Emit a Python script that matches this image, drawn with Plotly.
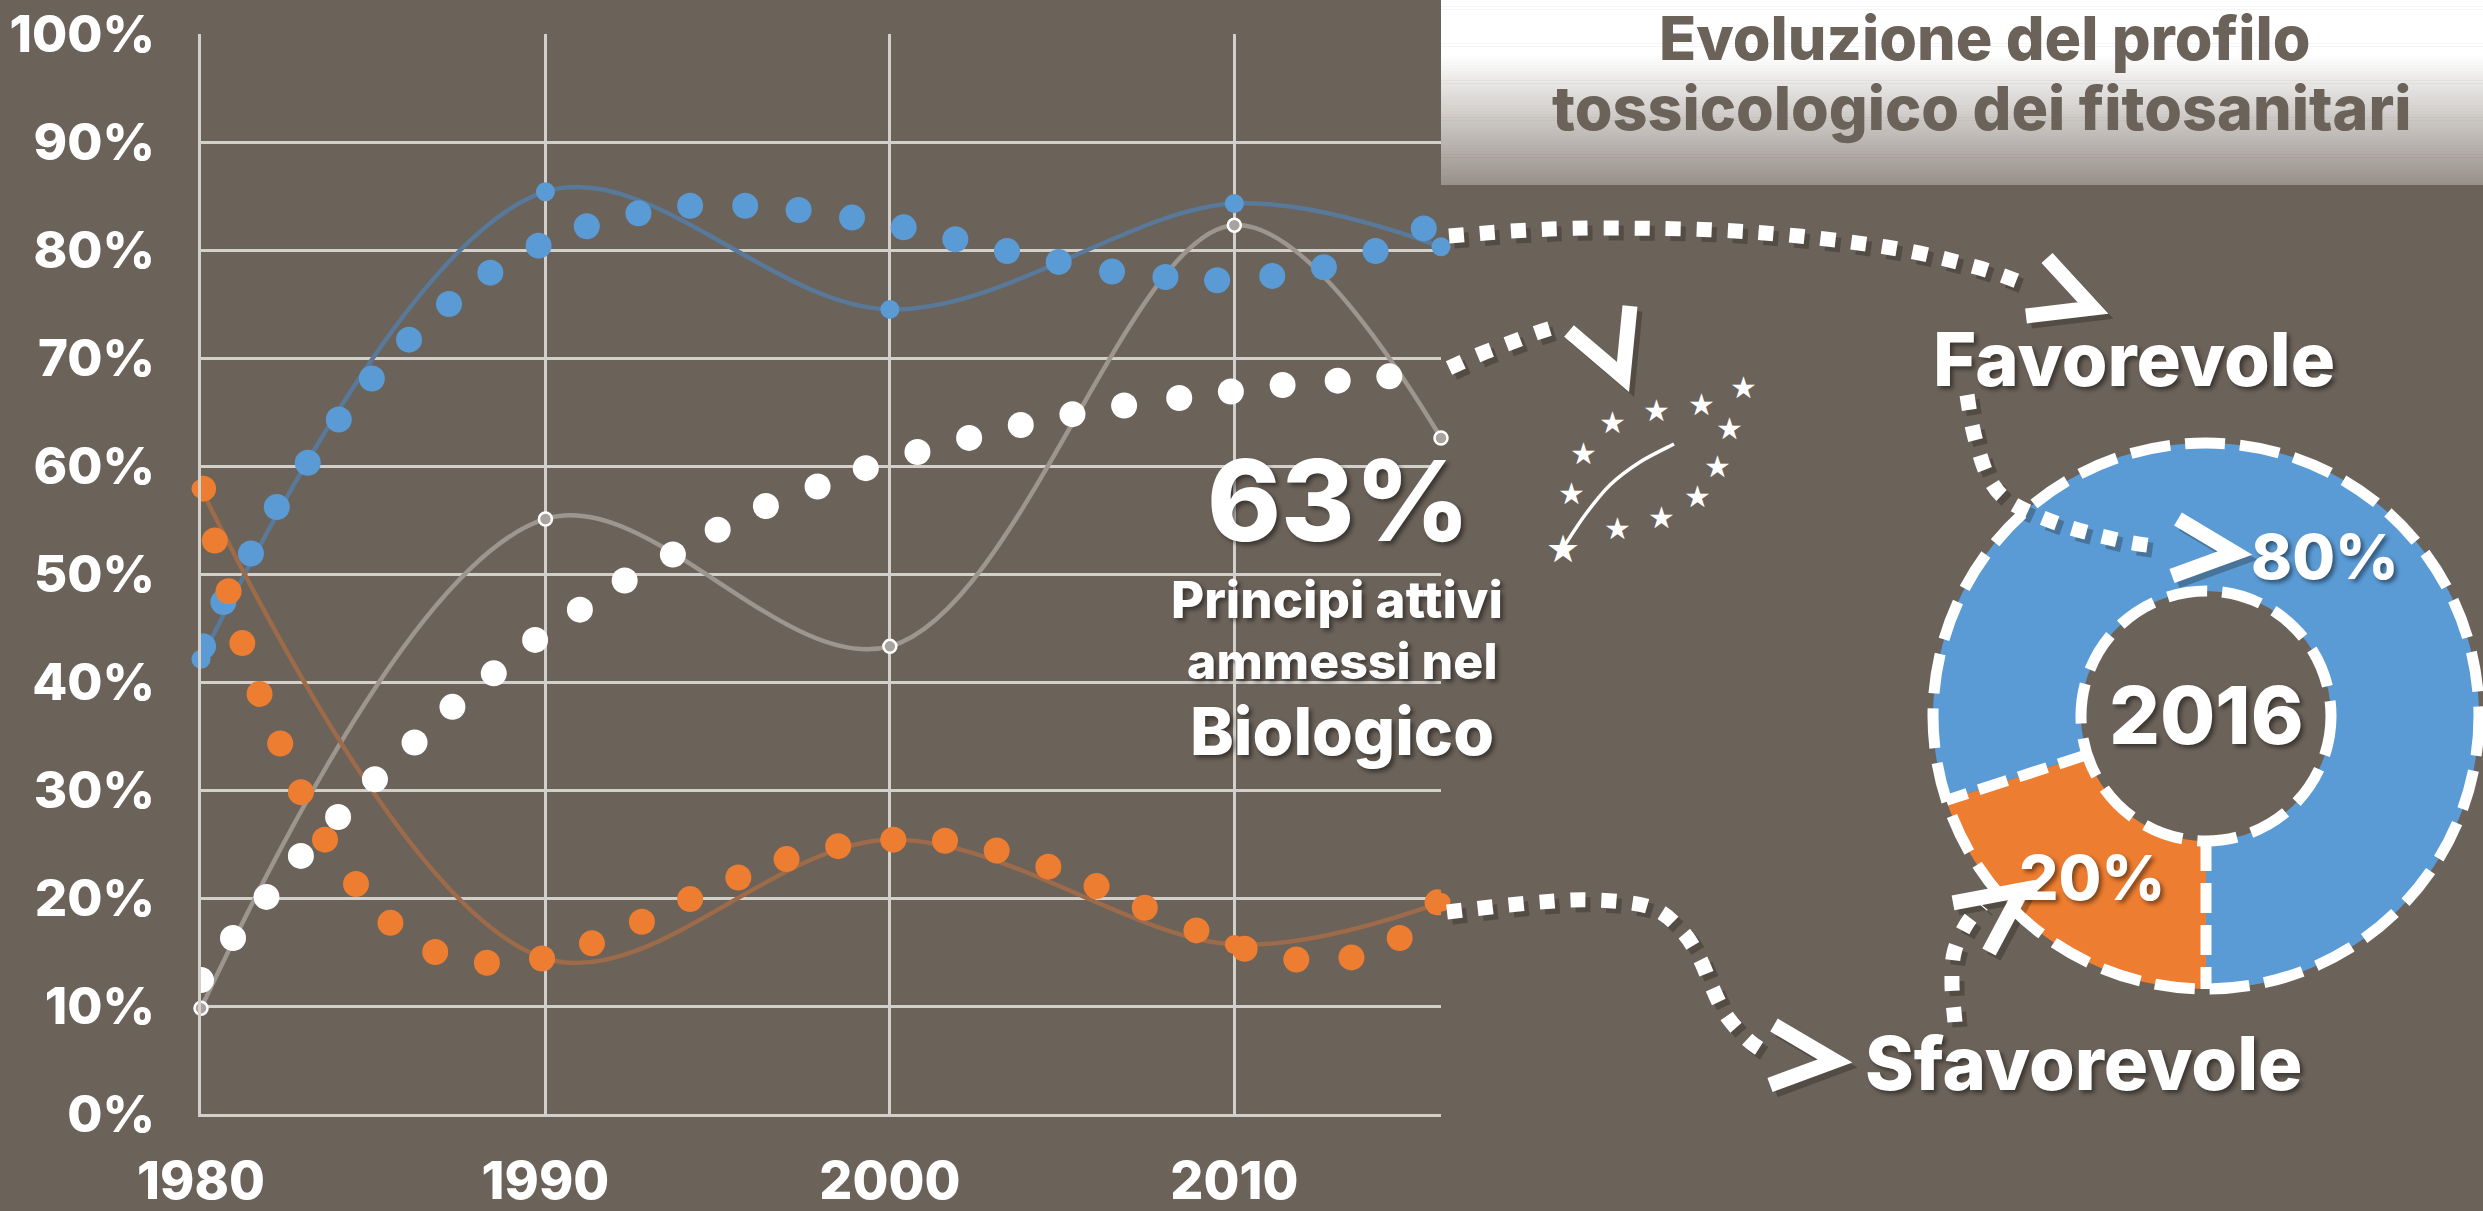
import math
import plotly.graph_objects as go

W, H = 2483, 1211
BG = "#6b6259"
BLUE = "#5b9bd5"
ORANGE = "#ed7d31"
WHITE = "#ffffff"
GRID = "#d3cfcb"
FONT = "Inter"
WEIGHT = 800

# ---------------- data ----------------
line_years = [1980, 1990, 2000, 2010, 2016]
fav_line = [42.1, 85.4, 74.5, 84.3, 80.3]
sfav_line = [57.9, 14.4, 25.4, 15.7, 19.6]
bio_line = [9.8, 55.1, 43.3, 82.3, 62.6]

fav_dot_x = [1980.06, 1980.65, 1981.45, 1982.2, 1983.1, 1984.0, 1984.96, 1986.04, 1987.2, 1988.4,
             1989.8, 1991.2, 1992.7, 1994.2, 1995.8, 1997.35, 1998.9, 2000.4, 2001.9, 2003.4,
             2004.9, 2006.45, 2008.0, 2009.5, 2011.1, 2012.6, 2014.1, 2015.5]
fav_dot_y = [43.3, 47.4, 51.9, 56.2, 60.3, 64.3, 68.1, 71.7, 75.0, 77.9,
             80.4, 82.2, 83.4, 84.1, 84.1, 83.7, 83.0, 82.1, 81.0, 79.9,
             78.9, 78.0, 77.5, 77.2, 77.6, 78.4, 79.9, 82.0]

bio_dot_x = [1980.0, 1980.93, 1981.9, 1982.9, 1983.98, 1985.05, 1986.2, 1987.3, 1988.5, 1989.7,
             1991.0, 1992.3, 1993.7, 1995.0, 1996.4, 1997.9, 1999.3, 2000.8, 2002.3, 2003.8,
             2005.3, 2006.8, 2008.4, 2009.9, 2011.4, 2013.0, 2014.5]
bio_dot_y = [12.4, 16.3, 20.1, 23.9, 27.5, 31.0, 34.4, 37.7, 40.8, 43.9,
             46.7, 49.4, 51.8, 54.1, 56.3, 58.1, 59.8, 61.3, 62.6, 63.8,
             64.8, 65.6, 66.3, 66.9, 67.5, 67.9, 68.3]

sfav_dot_x = [1980.06, 1980.4, 1980.8, 1981.2, 1981.7, 1982.3, 1982.9, 1983.6, 1984.5, 1985.5,
              1986.8, 1988.3, 1989.9, 1991.35, 1992.8, 1994.2, 1995.6, 1997.0, 1998.5, 2000.1,
              2001.6, 2003.1, 2004.6, 2006.0, 2007.4, 2008.9, 2010.3, 2011.8, 2013.4, 2014.8, 2015.9]
sfav_dot_y = [57.9, 53.1, 48.4, 43.6, 38.9, 34.3, 29.8, 25.4, 21.3, 17.7,
              15.0, 14.0, 14.4, 15.8, 17.8, 19.9, 21.9, 23.6, 24.8, 25.4,
              25.3, 24.4, 22.9, 21.1, 19.1, 17.0, 15.3, 14.3, 14.5, 16.3, 19.6]

donut_labels = ["Favorevole", "Sfavorevole"]
donut_values = [80, 20]
donut_year = "2016"
bio_share = 63

y_ticks = list(range(0, 101, 10))
y_ticktext = [f"{v}%" for v in y_ticks]
x_ticks = [1980, 1990, 2000, 2010]
x_ticktext = [str(v) for v in x_ticks]

title_lines = ["Evoluzione del profilo", "tossicologico dei fitosanitari"]
bio_lines = ["Principi attivi", "ammessi nel", "Biologico"]

# ---------------- geometry helpers (pixels -> paper) ----------------
PL, PR, PT, PB = 201, 1441, 34, 1114


def px(x):
    return x / W


def py(y):
    return 1 - y / H


SHADOW = "3px 3px 4px rgba(0,0,0,0.45)"

fig = go.Figure()

# smooth lines with small markers
fig.add_trace(go.Scatter(x=line_years, y=bio_line, mode="lines+markers", cliponaxis=False,
                         line=dict(color="#9d968e", width=4.5, shape="spline"),
                         marker=dict(size=13, color="#a8a39e", line=dict(color=WHITE, width=2.5)),
                         hoverinfo="skip", showlegend=False))
fig.add_trace(go.Scatter(x=line_years, y=fav_line, mode="lines+markers", cliponaxis=False,
                         line=dict(color="#58799a", width=4.5, shape="spline"),
                         marker=dict(size=19, color=BLUE),
                         hoverinfo="skip", showlegend=False))
fig.add_trace(go.Scatter(x=line_years, y=sfav_line, mode="lines+markers", cliponaxis=False,
                         line=dict(color="#9d6a4a", width=4.5, shape="spline"),
                         marker=dict(size=19, color=ORANGE),
                         hoverinfo="skip", showlegend=False))

# big dotted series
for xs, ys, col in [(fav_dot_x, fav_dot_y, BLUE), (sfav_dot_x, sfav_dot_y, ORANGE),
                    (bio_dot_x, bio_dot_y, WHITE)]:
    fig.add_trace(go.Scatter(x=xs, y=ys, mode="markers",
                             marker=dict(size=26, color=col, line=dict(width=0)),
                             hoverinfo="skip", showlegend=False))

# donut
CX, CY, R_OUT, R_IN = 2206, 716, 273, 125
rot = 180 + 360 * donut_values[1] / sum(donut_values)
fig.add_trace(go.Pie(values=donut_values, labels=donut_labels, hole=R_IN / R_OUT,
                     marker=dict(colors=[BLUE, ORANGE], line=dict(width=0)),
                     textinfo="none", rotation=rot, direction="clockwise", sort=False,
                     domain=dict(x=[px(CX - R_OUT), px(CX + R_OUT)], y=[py(CY + R_OUT), py(CY - R_OUT)]),
                     hoverinfo="skip", showlegend=False))

shapes = []

# title gradient box
N = 60
y_top, y_bot = 0, 185
for i in range(N):
    y0 = y_top + (y_bot - y_top) * i / N
    y1 = y_top + (y_bot - y_top) * (i + 1) / N + 0.6
    ym = (y0 + y1) / 2
    t = max(0.0, (ym - 55) / (y_bot - 55))
    c0, c1 = (255, 255, 255), (152, 145, 138)
    col = "rgb(%d,%d,%d)" % tuple(round(a + (b - a) * t) for a, b in zip(c0, c1))
    shapes.append(dict(type="rect", xref="paper", yref="paper", x0=px(1441), x1=1.0,
                       y0=py(min(y1, y_bot)), y1=py(y0), line=dict(width=0), fillcolor=col, layer="below"))


def smooth_path(points):
    P = points
    d = f"M{px(P[0][0]):.5f},{py(P[0][1]):.5f}"
    for i in range(len(P) - 1):
        p0 = P[i - 1] if i > 0 else P[i]
        p1 = P[i]
        p2 = P[i + 1]
        p3 = P[i + 2] if i + 2 < len(P) else P[i + 1]
        c1 = (p1[0] + (p2[0] - p0[0]) / 6, p1[1] + (p2[1] - p0[1]) / 6)
        c2 = (p2[0] - (p3[0] - p1[0]) / 6, p2[1] - (p3[1] - p1[1]) / 6)
        d += (f" C{px(c1[0]):.5f},{py(c1[1]):.5f} {px(c2[0]):.5f},{py(c2[1]):.5f}"
              f" {px(p2[0]):.5f},{py(p2[1]):.5f}")
    return d


def poly_path(points):
    return "M" + " L".join(f"{px(x):.5f},{py(y):.5f}" for x, y in points)


arrows = [
    # (dotted path points, arrowhead [arm1, tip, arm2])
    ([(1449, 236), (1530, 230), (1620, 228), (1752, 232), (1886, 247), (1976, 267), (2030, 286)],
     [(2047, 258), (2093, 308), (2026, 316)]),
    ([(1449, 368), (1478, 355), (1507, 344), (1536, 333), (1558, 326)],
     [(1569, 331), (1623, 377), (1630, 306)]),
    ([(1447, 912), (1529, 903), (1592, 900), (1650, 907), (1681, 930), (1699, 957), (1712, 987),
      (1726, 1015), (1748, 1040), (1768, 1054)],
     [(1774, 1025), (1835, 1061), (1770, 1085)]),
    ([(1967, 395), (1972, 425), (1979, 452), (1990, 480), (2010, 502), (2059, 524), (2118, 540),
      (2160, 547)],
     [(2178, 519), (2235, 553), (2172, 576)]),
    ([(1955, 1022), (1952, 985), (1954, 953), (1966, 925), (1982, 905)],
     [(1953, 903), (2022, 890), (1989, 952)]),
]

for off, col in [(5, "rgba(30,25,20,0.30)"), (0, WHITE)]:
    for pts, head in arrows:
        sp = [(x + off, y + off) for x, y in pts]
        hp = [(x + off, y + off) for x, y in head]
        shapes.append(dict(type="path", xref="paper", yref="paper", path=smooth_path(sp),
                           line=dict(color=col, width=15, dash="15px,16px"), layer="above"))
        shapes.append(dict(type="path", xref="paper", yref="paper", path=poly_path(hp),
                           line=dict(color=col, width=15), layer="above"))

# donut dashed outlines
DASH = "40px,15px"
for r in (R_OUT, R_IN):
    shapes.append(dict(type="circle", xref="paper", yref="paper",
                       x0=px(CX - r), x1=px(CX + r), y0=py(CY + r), y1=py(CY - r),
                       line=dict(color=WHITE, width=11, dash=DASH), layer="above"))
for ang in (180, rot):
    a = math.radians(ang)
    sx, sy = math.sin(a), -math.cos(a)
    shapes.append(dict(type="line", xref="paper", yref="paper",
                       x0=px(CX + R_IN * sx), y0=py(CY + R_IN * sy),
                       x1=px(CX + R_OUT * sx), y1=py(CY + R_OUT * sy),
                       line=dict(color=WHITE, width=11, dash="30px,12px"), layer="above"))

# EU organic leaf: curve + stars
shapes.append(dict(type="path", xref="paper", yref="paper",
                   path=smooth_path([(1563, 548), (1585, 515), (1610, 485), (1640, 462), (1674, 444)]),
                   line=dict(color=WHITE, width=3.5), layer="above"))

stars = [(1743, 387, 30), (1701, 404, 30), (1656, 410, 30), (1612, 422, 30), (1583, 453, 30),
         (1571, 493, 30), (1563, 549, 38), (1617, 528, 30), (1662, 517, 30), (1697, 496, 30),
         (1717, 467, 30), (1730, 428, 30)]

annotations = []


def txt(text, x, y, size, color=WHITE, shadow=SHADOW, family=FONT, weight=WEIGHT):
    annotations.append(dict(text=text, x=px(x), y=py(y), xref="paper", yref="paper",
                            xanchor="center", yanchor="middle", showarrow=False,
                            font=dict(family=family, size=size, color=color, weight=weight,
                                      shadow=shadow)))


for sx_, sy_, ss in stars:
    txt("\u2605", sx_, sy_, ss, family="DejaVu Sans", weight="normal", shadow="none")

txt(title_lines[0], 1984, 38, 61, color=BG, shadow="none")
txt(title_lines[1], 1982, 108, 61, color=BG, shadow="none")

txt(f"{bio_share}%", 1338, 500, 112)
txt(bio_lines[0], 1337, 599, 51)
txt(bio_lines[1], 1342, 661, 50)
txt(bio_lines[2], 1342, 731, 66)

txt(donut_labels[0], 2134, 359, 74)
txt(donut_labels[1], 2084, 1063, 74)
txt(f"{donut_values[0]}%", 2325, 556, 62)
txt(f"{donut_values[1]}%", 2092, 877, 62)
txt(donut_year, 2206, 715, 80)

fig.update_layout(
    width=W, height=H, autosize=False,
    margin=dict(l=0, r=0, t=0, b=0, pad=0),
    paper_bgcolor=BG, plot_bgcolor=BG,
    showlegend=False, hovermode=False,
    shapes=shapes, annotations=annotations,
    xaxis=dict(domain=[px(PL), px(PR)], range=[1980, 2016], tickvals=x_ticks, ticktext=x_ticktext,
               showgrid=True, gridcolor=GRID, gridwidth=2.5, zeroline=False, automargin=False,
               showline=True, linecolor=GRID, linewidth=2.5, ticks="",
               ticklabelstandoff=20,
               tickfont=dict(family=FONT, size=52, color=WHITE, weight=WEIGHT)),
    yaxis=dict(domain=[py(PB), py(PT)], range=[0, 100], tickvals=y_ticks, ticktext=y_ticktext,
               showgrid=True, gridcolor=GRID, gridwidth=2.5, zeroline=False, automargin=False,
               showline=True, linecolor=GRID, linewidth=2.5, ticks="",
               ticklabelstandoff=33,
               tickfont=dict(family=FONT, size=51, color=WHITE, weight=WEIGHT)),
)

fig.write_html("out.html", config={"displayModeBar": False},
               post_script="document.body.style.margin='0px';document.body.style.overflow='hidden';")
